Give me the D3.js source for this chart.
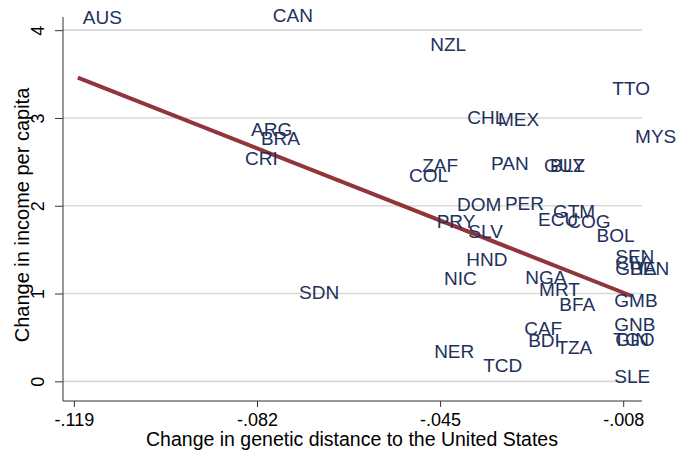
<!DOCTYPE html>
<html>
<head>
<meta charset="utf-8">
<script src="https://cdn.jsdelivr.net/npm/d3@7"></script>
<style>
  body{margin:0;background:#fff;}
  svg{display:block;font-family:"Liberation Sans",Arial,sans-serif;}
</style>
</head>
<body>
<svg id="chart"></svg>
<script>
// country codes and values
const countries=["AUS","CAN","NZL","TTO","MYS","ARG","BRA","CRI","CHL","MEX","ZAF","COL","PAN","GUY","BLZ",
  "DOM","PER","GTM","ECU","COG","BOL","PRY","SLV","HND","NIC","NGA","MRT","BFA","GMB","GNB","GIN","TGO","SLE",
  "CAF","BDI","TZA","NER","TCD","SDN","SEN","CIV","GHA","BEN"]
const distChange=[-0.1172,-0.0788,-0.0470,-0.0102,-0.0056,-0.0832,-0.0812,-0.0844,-0.0395,-0.0333,-0.0486,-0.0513,-0.0347,-0.0240,-0.0228,
  -0.0416,-0.0319,-0.0222,-0.0252,-0.0193,-0.0134,-0.0457,-0.0393,-0.0397,-0.0442,-0.0278,-0.0250,-0.0209,-0.0098,-0.0098,-0.0096,-0.0100,-0.0098,
  -0.0280,-0.0272,-0.0215,-0.0462,-0.0363,-0.0735,-0.0096,-0.0096,-0.0096,-0.0066]
const incomeChange=[4.15,4.17,3.84,3.34,2.79,2.87,2.77,2.54,3.01,2.99,2.46,2.35,2.49,2.46,2.46,
  2.02,2.03,1.94,1.85,1.82,1.67,1.83,1.71,1.39,1.17,1.19,1.05,0.88,0.93,0.65,0.48,0.48,0.06,
  0.61,0.47,0.39,0.34,0.18,1.02,1.43,1.36,1.29,1.29]

// fitted line end points
const fitX=[-0.1182,-0.0064]
const fitY=[3.46,0.975]

// ticks
const xTicks=[-0.119,-0.082,-0.045,-0.008]
const xTickLabels=["-.119","-.082","-.045","-.008"]
const yTicks=[0,1,2,3,4]

const w=676
const h=455
const svg=d3.select("#chart").attr("width",w).attr("height",h)

//setting the scaling
const xScale=d3.scaleLinear().domain([-0.1212,-0.0042]).range([63,642])
const yScale=d3.scaleLinear().domain([-0.224,4.15]).range([401,17])

//gridlines
svg.append("g")
  .selectAll("line")
  .data(yTicks)
  .join("line")
  .attr("x1",xScale.range()[0])
  .attr("x2",xScale.range()[1])
  .attr("y1",d=>yScale(d))
  .attr("y2",d=>yScale(d))
  .attr("stroke","#d9d9d9")
  .attr("stroke-width",1.6)

//setting the axes
const xAxis=d3.axisBottom(xScale)
  .tickValues(xTicks)
  .tickSize(6)
  .tickPadding(6)
  .tickFormat((d,i)=>xTickLabels[i])
const yAxis=d3.axisLeft(yScale)
  .tickValues(yTicks)
  .tickSize(8)
  .tickFormat(d3.format("d"))

const gx=svg.append("g")
  .attr("transform",`translate(0,${yScale.range()[0]})`)
  .call(xAxis)
gx.select(".domain").attr("d",`M${xScale.range()[0]},0H${xScale.range()[1]}`).attr("stroke","#333")
gx.selectAll(".tick line").attr("stroke","#333")
gx.selectAll("text").attr("font-size",18).attr("fill","#000").attr("font-family","Liberation Sans, Arial, sans-serif")

const gy=svg.append("g")
  .attr("transform",`translate(${xScale.range()[0]},0)`)
  .call(yAxis)
gy.select(".domain").attr("d",`M0,${yScale.range()[1]}V${yScale.range()[0]}`).attr("stroke","#333")
gy.selectAll(".tick line").attr("stroke","#333")
gy.selectAll("text")
  .attr("font-size",18).attr("fill","#000").attr("font-family","Liberation Sans, Arial, sans-serif")
  .attr("transform","rotate(-90)")
  .attr("x",0).attr("y",-19).attr("dy",0)
  .attr("text-anchor","middle")

//axis titles
svg.append("text")
  .attr("x",352).attr("y",446)
  .attr("text-anchor","middle")
  .attr("font-size",19.5)
  .text("Change in genetic distance to the United States")
svg.append("text")
  .attr("transform","translate(29,215) rotate(-90)")
  .attr("text-anchor","middle")
  .attr("font-size",20)
  .text("Change in income per capita")

//fitted line
svg.append("path")
  .datum(fitX.map((v,i)=>[v,fitY[i]]))
  .attr("d",d3.line().x(d=>xScale(d[0])).y(d=>yScale(d[1])))
  .attr("stroke","#90353b")
  .attr("stroke-width",4)
  .attr("fill","none")

//country labels
svg.append("g")
  .selectAll("text")
  .data(countries)
  .join("text")
  .attr("x",(d,i)=>xScale(distChange[i]))
  .attr("y",(d,i)=>yScale(incomeChange[i]))
  .attr("dy","0.36em")
  .attr("font-size",19)
  .attr("fill","#22305c")
  .text(d=>d)
</script>
</body>
</html>
